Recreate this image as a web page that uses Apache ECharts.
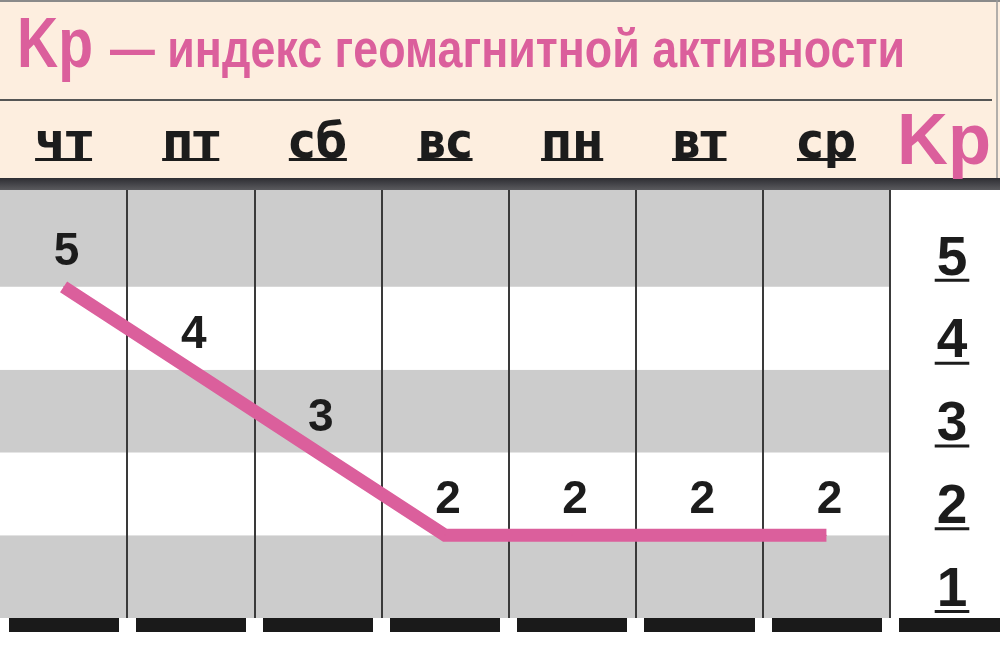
<!DOCTYPE html>
<html>
<head>
<meta charset="utf-8">
<title>Kp</title>
<script src="https://cdn.jsdelivr.net/npm/echarts@6/dist/echarts.min.js"></script>
<style>html,body{margin:0;padding:0;background:#fff;}</style>
</head>
<body>
<div id="main" style="width:1000px;height:663px;"></div>
<script type="text/javascript">
// данные
var days = ['чт', 'пт', 'сб', 'вс', 'пн', 'вт', 'ср'];
var kp = [5, 4, 3, 2, 2, 2, 2];
var kpTicks = [1, 2, 3, 4, 5];
var titleMain = 'Kp';
var titleRest = '— индекс геомагнитной активности';
var axisTitle = 'Kp';

var PINK = '#db5f9c';
var BEIGE = '#fdeedf';
var GRAY = '#cccccc';
var INK = '#1c1c1c';
var DAY_FAMILY = '"DejaVu Sans Condensed", "Liberation Sans"';

var myChart = echarts.init(document.getElementById('main'));

function textWidth(txt, font) {
    var ctx = document.createElement('canvas').getContext('2d');
    ctx.font = font;
    return ctx.measureText(txt).width;
}

var option = {
    animation: false,
    backgroundColor: '#fff',
    grid: { left: 0, right: 110, top: 190, bottom: 45 },
    xAxis: [{
        type: 'category',
        data: days,
        position: 'top',
        axisLine: { show: false },
        axisTick: { show: false },
        axisLabel: {
            margin: 20,
            fontFamily: DAY_FAMILY,
            fontWeight: 'bold',
            fontSize: 50,
            color: INK
        },
        splitLine: {
            show: true,
            showMinLine: false,
            showMaxLine: true,
            lineStyle: { color: '#3a3a3a', width: 2 }
        },
        z: 2
    }, {
        // белые просветы в нижней полосе
        type: 'category',
        data: days,
        position: 'bottom',
        axisLine: { show: false },
        axisLabel: { show: false },
        axisTick: { show: true, length: 14, lineStyle: { color: '#fff', width: 17 } },
        z: 3
    }],
    yAxis: {
        type: 'value',
        min: 1,
        max: 6.17,
        interval: 1,
        position: 'right',
        axisLine: { show: false },
        axisTick: { show: false },
        splitLine: { show: false },
        splitArea: {
            show: true,
            areaStyle: { color: [GRAY, '#fff', GRAY, '#fff', GRAY, GRAY] }
        },
        axisLabel: {
            formatter: function (v) { return kpTicks.indexOf(v) >= 0 ? String(v) : ''; },
            margin: 62,
            align: 'center',
            verticalAlign: 'bottom',
            fontFamily: 'Liberation Sans',
            fontWeight: 'bold',
            fontSize: 55,
            color: INK
        },
        z: 1
    },
    series: [{
        type: 'line',
        data: kp,
        symbol: 'circle',
        symbolSize: 1,
        showSymbol: true,
        itemStyle: { color: PINK },
        lineStyle: { color: PINK, width: 13, cap: 'butt', join: 'miter' },
        label: {
            show: true,
            position: 'top',
            distance: 11,
            offset: [3, 0],
            fontFamily: 'Liberation Sans',
            fontWeight: 'bold',
            fontSize: 46,
            color: INK
        },
        z: 5
    }]
};
myChart.setOption(option);

// оформление: шапка, полосы, подчёркивания
var fTitleKp = 'bold 70px "Liberation Sans"';
var fTitleRest = 'bold 54px "Liberation Sans"';
var fAxisKp = 'bold 72px "Liberation Sans"';
var fDay = 'bold 50px ' + DAY_FAMILY;
var fTick = 'bold 55px "Liberation Sans"';

var g = [
    { type: 'rect', shape: { x: 0, y: 0, width: 1000, height: 178 }, style: { fill: BEIGE }, z: 0 },
    { type: 'line', shape: { x1: 0, y1: 1, x2: 1000, y2: 1 }, style: { stroke: '#8a8a8a', lineWidth: 2 }, z: 1 },
    { type: 'line', shape: { x1: 0, y1: 100, x2: 992, y2: 100 }, style: { stroke: '#555', lineWidth: 2 }, z: 1 },
    { type: 'line', shape: { x1: 997, y1: 0, x2: 997, y2: 178 }, style: { stroke: '#999', lineWidth: 1.5 }, z: 1 },
    {
        type: 'rect', shape: { x: 0, y: 178, width: 1000, height: 12 }, z: 1,
        style: { fill: new echarts.graphic.LinearGradient(0, 0, 0, 1, [
            { offset: 0, color: '#2e2e33' }, { offset: 1, color: '#5a5a5e' }]) }
    },
    { type: 'rect', shape: { x: 0, y: 618, width: 1000, height: 14 }, style: { fill: '#1a1a1a' }, z: 1 },
    {
        type: 'text', x: 17, y: 48, z: 2,
        scaleX: 76 / textWidth(titleMain, fTitleKp),
        style: { text: titleMain, font: fTitleKp, fill: PINK, align: 'left', verticalAlign: 'middle' }
    },
    {
        type: 'text', x: 110, y: 52, z: 2,
        scaleX: 795 / textWidth(titleRest, fTitleRest),
        style: { text: titleRest, font: fTitleRest, fill: PINK, align: 'left', verticalAlign: 'middle' }
    },
    {
        type: 'text', x: 897, y: 144, z: 2,
        scaleX: 94 / textWidth(axisTitle, fAxisKp),
        style: { text: axisTitle, font: fAxisKp, fill: PINK, align: 'left', verticalAlign: 'middle' }
    }
];

days.forEach(function (d) {
    var cx = myChart.convertToPixel({ xAxisIndex: 0 }, d);
    var w = textWidth(d, fDay);
    g.push({ type: 'rect', shape: { x: cx - w / 2, y: 158, width: w, height: 3 }, style: { fill: INK }, z: 2 });
});
kpTicks.forEach(function (v) {
    var cy = myChart.convertToPixel({ yAxisIndex: 0 }, v);
    var w = textWidth(String(v), fTick) + 4;
    g.push({ type: 'rect', shape: { x: 952 - w / 2, y: cy - 8, width: w, height: 3 }, style: { fill: INK }, z: 2 });
});

myChart.setOption({ graphic: g });
</script>
</body>
</html>
